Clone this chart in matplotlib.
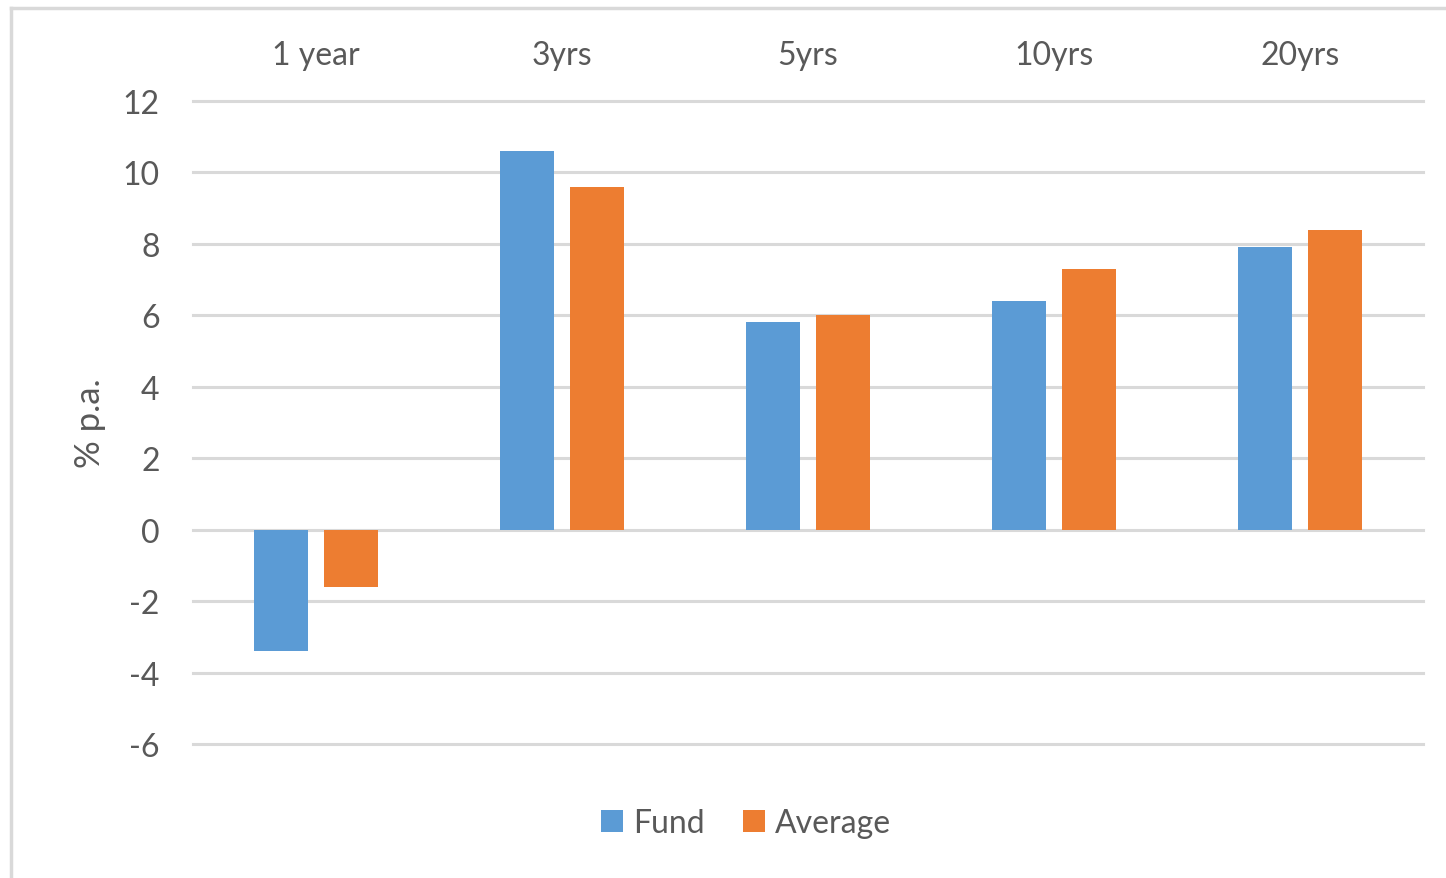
import matplotlib.pyplot as plt
import numpy as np
from matplotlib.lines import Line2D

categories = ["1 year", "3yrs", "5yrs", "10yrs", "20yrs"]
fund = [-3.4, 10.6, 5.8, 6.4, 7.9]
average = [-1.6, 9.6, 6.0, 7.3, 8.4]
yticks = [-6, -4, -2, 0, 2, 4, 6, 8, 10, 12]

plt.rcParams['font.family'] = ['Lato', 'DejaVu Sans']
txt = '#595959'
grid = '#d9d9d9'
fs = 23

W, H = 1446, 879
fig = plt.figure(figsize=(W/100, H/100), dpi=100)
ax = fig.add_axes([193/W, 1-745/H, (1423-193)/W, (745-102)/H])

x = np.arange(len(categories))
w = 0.22
off = 0.142
ax.bar(x-off, fund, w, color='#5B9BD5', label='Fund', zorder=3)
ax.bar(x+off, average, w, color='#ED7D31', label='Average', zorder=3)

ax.set_xlim(-0.5, len(categories)-0.5)
ax.set_ylim(-6, 12)
ax.set_yticks(yticks)
ax.set_yticklabels([str(t) for t in yticks])
ax.yaxis.grid(True, color=grid, lw=2.2, zorder=0)
for gl in ax.get_ygridlines():
    gl.set_clip_on(False)
ax.set_axisbelow(True)

ax.xaxis.tick_top()
ax.set_xticks(x)
ax.set_xticklabels(categories)
ax.tick_params(axis='x', length=0, pad=22, labelsize=fs, labelcolor=txt)
ax.tick_params(axis='y', length=0, pad=24, labelsize=fs, labelcolor=txt)
for s in ax.spines.values():
    s.set_visible(False)

ax.set_ylabel('% p.a.', fontsize=fs+2, color=txt, labelpad=12)

fig.legend(loc='center', bbox_to_anchor=(746/W, 1-824/H), ncol=2, frameon=False,
           fontsize=fs, labelcolor=txt, handlelength=0.7, handleheight=0.7,
           handletextpad=0.3, columnspacing=1.2)

# chart frame (top and left edges only visible)
fig.add_artist(Line2D([11/W, 1], [1-9/H, 1-9/H], color=grid, lw=2.5, transform=fig.transFigure))
fig.add_artist(Line2D([11/W, 11/W], [0, 1-9/H], color=grid, lw=2.5, transform=fig.transFigure))

fig.savefig('out.png', dpi=100)
